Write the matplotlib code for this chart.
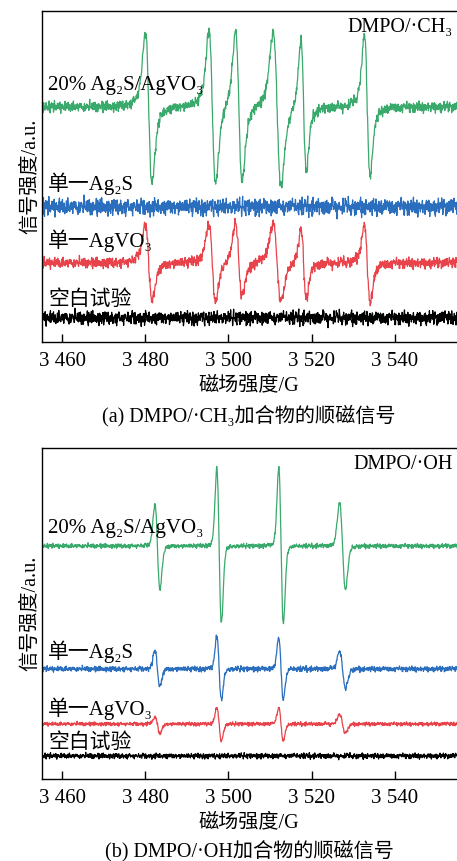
import numpy as np
import matplotlib
matplotlib.use("Agg")
from matplotlib import pyplot as plt

plt.rcParams['font.family'] = ['Liberation Serif', 'DejaVu Serif', 'Noto Sans CJK SC']

W, H = 457, 861

# field axis (G)
field = np.arange(3455.0, 3555.01, 0.08)
xticks = [3460, 3480, 3500, 3520, 3540]
xticklabels = ['3 460', '3 480', '3 500', '3 520', '3 540']

# baseline noise texture, typed by hand (values in -1..1)
noise_a = [0.3, -0.5, 0.8, -0.2, 0.1, -0.9, 0.6, 0.2, -0.4, 0.7, -0.6, 0.0, 0.5, -0.3,
           0.9, -0.7, 0.2, -0.1, 0.4, -0.8, 0.6, -0.2, 0.1, 0.7, -0.5, 0.3, -0.9, 0.5,
           0.0, -0.4, 0.8, -0.6, 0.2, 0.4, -0.3, 0.6, -0.7, 0.1, -0.2, 0.9, -0.5, 0.3,
           -0.1, 0.5, -0.8, 0.2, 0.7, -0.4, 0.0, -0.6, 0.4, -0.2, 0.6]
noise_b = [-0.4, 0.6, 0.1, -0.7, 0.3, 0.5, -0.2, -0.6, 0.8, 0.0, -0.3, 0.4, -0.9, 0.2,
           0.7, -0.5, 0.1, 0.3, -0.1, -0.8, 0.5, 0.6, -0.4, 0.2, -0.6, 0.9, -0.2, 0.0,
           0.4, -0.7, 0.3, -0.3, 0.6, -0.5, 0.1, 0.8, -0.1, -0.4, 0.5, -0.6, 0.2]

# (a) DMPO/·CH3 : six lines
ch3_center = [3480.8, 3496.1, 3502.5, 3511.7, 3518.1, 3533.4]
ch3_width = [1.6, 1.6, 1.6, 1.9, 1.3, 1.4]
ch3_green_up = [74, 76, 77, 75, 70, 72]
ch3_green_dn = [76, 80, 75, 80, 63, 68]
ch3_red_up = [39, 39, 40, 39, 34, 38]
ch3_red_dn = [38, 40, 33, 38, 35, 40]
ch3_offset = [235, 135, 79, 24]      # green, blue, red, black
ch3_noise = [7, 11, 7, 9]

# (b) DMPO/·OH : 1:2:2:1 quartet
oh_center = [3482.9, 3497.75, 3512.65, 3527.45]
oh_width = [1.2, 1.1, 1.1, 1.4]
oh_green_up = [42, 78, 78, 43]
oh_green_dn = [44, 77, 78, 43]
oh_blue_up = [18, 33, 31, 18]
oh_blue_dn = [17, 31, 30, 20]
oh_red_up = [7, 16, 16, 9]
oh_red_dn = [10, 17, 17, 9]
oh_offset = [233, 110, 55, 23]
oh_noise = [3, 3.5, 2.5, 3.5]

colors = ['#3aa96c', '#2a6ebd', '#e8434b', '#000000']
names = ['20% Ag₂S/AgVO₃', '单一Ag₂S', '单一AgVO₃', '空白试验']


def spectrum(centers, widths, up, dn, lor):
    y = np.zeros_like(field)
    for c, w, a, b in zip(centers, widths, up, dn):
        g = w * np.sqrt(3) / 2
        u = (field - c) / g
        fl = -u / (1 + u ** 2) ** 2 / 0.3248
        v = (field - c) / (w / 2)
        fg = -v * np.exp(-v ** 2 / 2) / 0.6065
        f = lor * fl + (1 - lor) * fg
        y += np.where(f > 0, a * f, b * f)
    return y


def noise(shift, amp):
    i = np.arange(len(field)) + shift
    na = np.array(noise_a)[i % len(noise_a)]
    nb = np.array(noise_b)[(i * 3) % len(noise_b)]
    nc = np.array(noise_a)[(i // 3 + 7) % len(noise_a)]
    return amp * (0.45 * na + 0.35 * nb + 0.45 * nc)


fig = plt.figure(figsize=(W / 100, H / 100), dpi=100)


def fx(px):
    return px / W


def fy(py):
    return 1 - py / H


def panel(top, bottom, traces, tag, label_y, caption, cap_y):
    ax = fig.add_axes([fx(41.5), fy(bottom), 1 - fx(41.5), (bottom - top) / H])
    for y, c in zip(traces, colors):
        ax.plot(field, y, color=c, lw=0.9)
    ax.set_xlim(3455, 3555)
    ax.set_ylim(0, bottom - top)
    ax.set_yticks([])
    ax.set_xticks(xticks)
    ax.set_xticklabels(xticklabels)
    ax.tick_params(axis='x', direction='in', length=6, width=1, labelsize=15, pad=7)
    for s in ['left', 'bottom', 'top']:
        ax.spines[s].set_linewidth(1.0)
    ax.spines['right'].set_visible(False)
    ax.set_ylabel('信号强度/a.u.', fontsize=14.5, labelpad=1)
    ax.set_xlabel('磁场强度/G', fontsize=14.5, labelpad=4)
    fig.text(fx(453), fy(top + 21), tag, ha='right', va='baseline', fontsize=14.5)
    for name, ly in zip(names, label_y):
        fig.text(fx(48), fy(ly), name, ha='left', va='baseline', fontsize=15)
    fig.text(fx(249), fy(cap_y), caption, ha='center', va='baseline', fontsize=14.5)
    return ax


top_traces = [
    ch3_offset[0] + spectrum(ch3_center, ch3_width, ch3_green_up, ch3_green_dn, 0.6) + noise(0, ch3_noise[0]),
    ch3_offset[1] + noise(17, ch3_noise[1]),
    ch3_offset[2] + spectrum(ch3_center, ch3_width, ch3_red_up, ch3_red_dn, 0.6) + noise(31, ch3_noise[2]),
    ch3_offset[3] + noise(44, ch3_noise[3]),
]
bot_traces = [
    oh_offset[0] + spectrum(oh_center, oh_width, oh_green_up, oh_green_dn, 0.1) + noise(5, oh_noise[0]),
    oh_offset[1] + spectrum(oh_center, oh_width, oh_blue_up, oh_blue_dn, 0.1) + noise(22, oh_noise[1]),
    oh_offset[2] + spectrum(oh_center, oh_width, oh_red_up, oh_red_dn, 0.1) + noise(38, oh_noise[2]),
    oh_offset[3] + noise(12, oh_noise[3]),
]

panel(11, 342, top_traces, 'DMPO/·CH₃', [90, 190, 247, 305], '(a) DMPO/·CH₃加合物的顺磁信号', 421)
panel(448, 779, bot_traces, 'DMPO/·OH', [533, 658, 715, 748], '(b) DMPO/·OH加合物的顺磁信号', 856)

fig.savefig('out.png', dpi=100)
